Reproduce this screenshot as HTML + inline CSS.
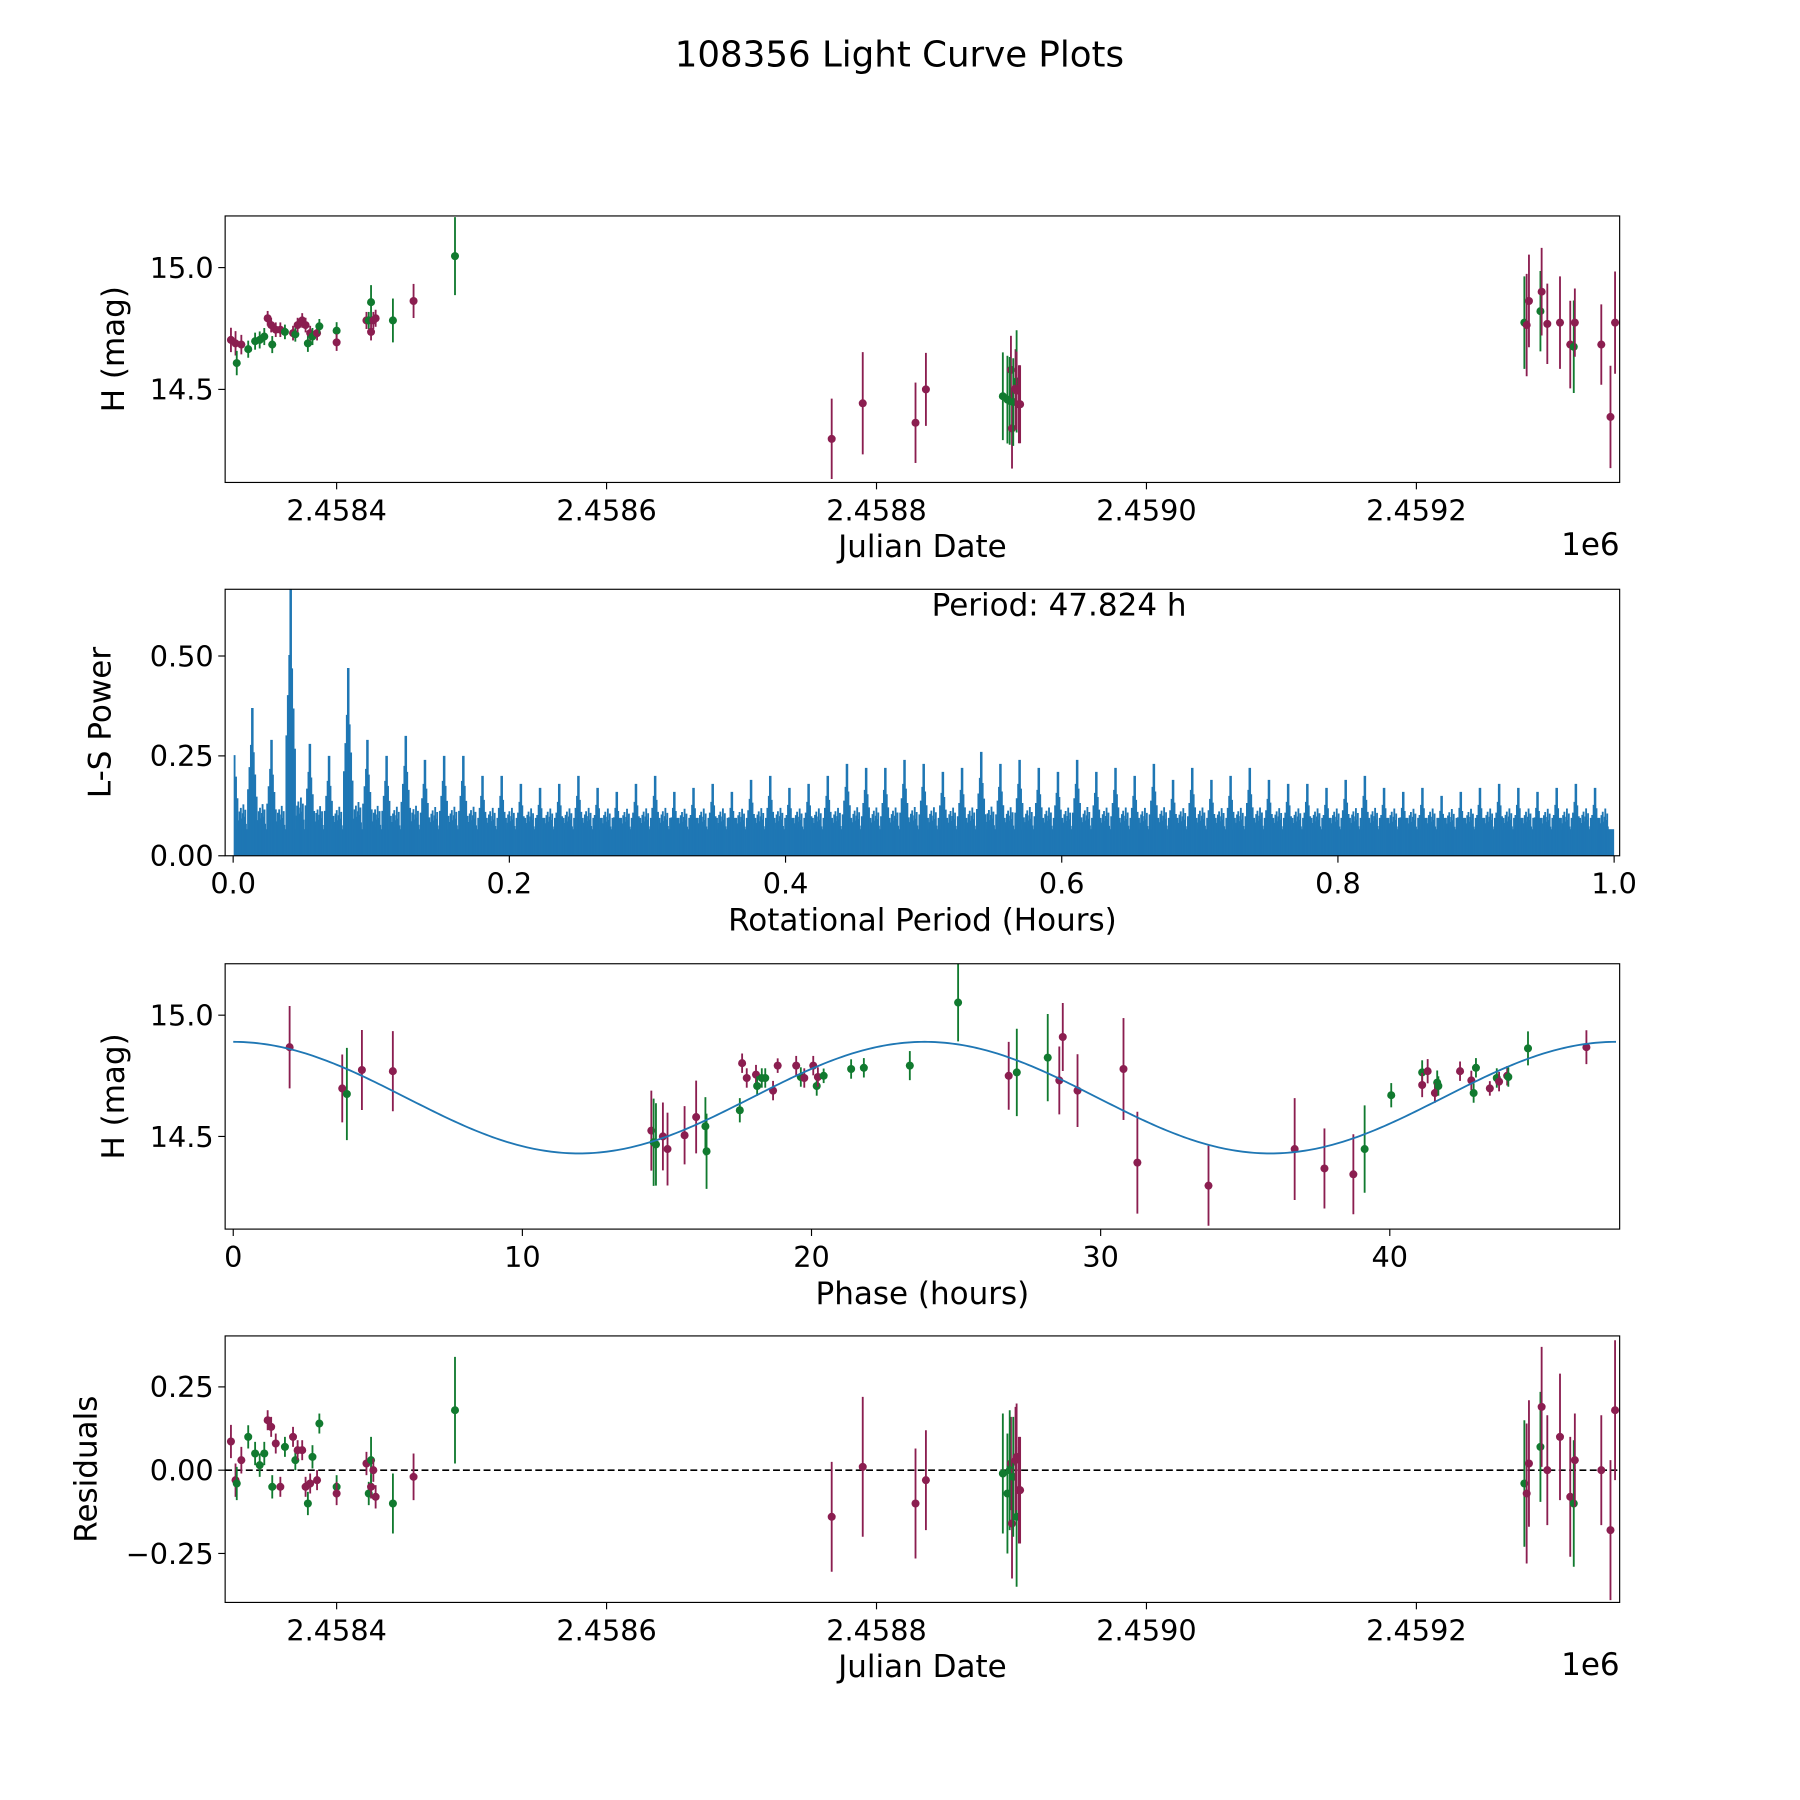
<!DOCTYPE html>
<html><head><meta charset="utf-8"><style>
html,body{margin:0;padding:0;background:#fff}
svg{display:block}
text{font-family:"DejaVu Sans","Liberation Sans",sans-serif;fill:#000}
</style></head><body>
<svg id="fig" width="1800" height="1800" viewBox="0 0 1567 1567" xmlns="http://www.w3.org/2000/svg">
<rect width="1567" height="1567" fill="#fff"/>
<text x="783" y="58" font-size="31" text-anchor="middle">108356 Light Curve Plots</text>
<g id="g1"></g><g id="g2"></g><g id="g3"></g><g id="g4"></g>
</svg>
<script>
// ---- data: panel 1 / 4 (JD offset from 2458400) ----
const jdOff=[-78.3,-74.9,-74.0,-70.6,-65.5,-60.4,-57.0,-53.6,-51.1,-48.5,-47.7,-45.1,-41.7,-38.3,-32.3,-30.6,-28.9,-25.5,-23.0,-21.3,-19.6,-17.9,-14.5,-12.8,0,0,22.1,23.8,25.5,25.5,27.2,28.9,41.7,57.0,87.7,366.8,389.8,428.9,436.6,493.6,497.0,499.6,498.7,500.4,501.3,503.0,503.8,503.8,505.5,506.4,880.0,881.7,883.4,891.9,892.8,897.0,906.4,914.0,916.6,917.4,937.0,943.8,947.2];
const magH=[14.703,14.689,14.608,14.684,14.665,14.698,14.703,14.717,14.792,14.764,14.684,14.745,14.745,14.736,14.731,14.726,14.764,14.783,14.764,14.689,14.731,14.717,14.731,14.759,14.741,14.693,14.783,14.783,14.736,14.858,14.783,14.792,14.783,14.863,15.047,14.297,14.443,14.363,14.5,14.472,14.458,14.580,14.453,14.340,14.448,14.505,14.533,14.495,14.439,14.439,14.774,14.764,14.863,14.821,14.901,14.769,14.774,14.684,14.675,14.774,14.684,14.387,14.774];
const errH=[0.05,0.05,0.05,0.04,0.035,0.035,0.035,0.035,0.03,0.03,0.035,0.03,0.03,0.03,0.03,0.03,0.03,0.03,0.03,0.035,0.03,0.035,0.03,0.03,0.035,0.035,0.035,0.035,0.035,0.07,0.035,0.035,0.09,0.07,0.16,0.165,0.21,0.165,0.15,0.18,0.18,0.14,0.18,0.165,0.18,0.16,0.21,0.16,0.16,0.16,0.19,0.21,0.19,0.165,0.18,0.165,0.19,0.18,0.19,0.14,0.165,0.21,0.21];
const colH=["p","p","g","p","g","g","g","g","p","p","g","p","p","g","p","g","p","p","p","g","p","g","p","g","g","p","p","g","p","g","p","p","g","p","g","p","p","p","p","g","g","p","g","p","g","p","g","p","p","p","g","p","p","g","p","p","p","p","g","p","p","p","p"];
const resid=[0.086,-0.03,-0.04,0.03,0.10,0.05,0.015,0.05,0.15,0.13,-0.05,0.08,-0.05,0.07,0.1,0.03,0.06,0.06,-0.05,-0.10,-0.04,0.04,-0.03,0.14,-0.05,-0.07,0.02,-0.07,-0.05,0.03,0.0,-0.08,-0.10,-0.02,0.18,-0.14,0.01,-0.10,-0.03,-0.01,-0.07,0.02,0.0,-0.16,-0.02,0.03,-0.14,0.04,-0.06,-0.06,-0.04,-0.07,0.02,0.07,0.19,0.0,0.10,-0.08,-0.10,0.03,0.0,-0.18,0.18];
// ---- data: panel 2 periodogram ----
const spikePeaks=[0.36,0.37,0.29,0.67,0.28,0.25,0.47,0.29,0.25,0.30,0.24,0.25,0.25,0.20,0.20,0.18,0.17,0.18,0.20,0.17,0.16,0.18,0.20,0.16,0.17,0.18,0.16,0.19,0.20,0.17,0.18,0.20,0.23,0.22,0.22,0.24,0.23,0.21,0.22,0.26,0.23,0.24,0.22,0.21,0.24,0.21,0.22,0.20,0.23,0.19,0.22,0.19,0.20,0.22,0.19,0.18,0.18,0.17,0.19,0.20,0.17,0.16,0.17,0.15,0.16,0.17,0.18,0.17,0.16,0.17,0.18,0.17];
const spikeSpacing=0.01389;
const baseLevel=0.095;
const fillMultipliers=[1.0,1.25,0.9,1.35,1.05,0.85,1.2,1.45,0.95,1.1,1.3,0.9];
const periodLabel="Period: 47.824 h";
// ---- data: panel 3 phased ----
const phase=[1.95,3.77,3.93,4.45,5.52,14.46,14.54,14.62,14.86,15.02,15.61,16.01,16.33,16.37,17.52,17.60,17.76,18.08,18.12,18.28,18.40,18.67,18.83,19.47,19.63,19.75,20.06,20.18,20.22,20.42,21.37,21.81,23.40,25.07,26.82,27.10,28.17,28.57,28.69,29.20,30.79,31.27,33.73,36.71,37.74,38.74,39.13,40.05,41.12,41.12,41.31,41.64,41.56,41.68,42.43,42.82,42.90,42.98,43.46,43.70,43.78,44.06,44.10,44.78,46.80];
const magP=[14.868,14.698,14.675,14.774,14.769,14.524,14.476,14.467,14.5,14.448,14.505,14.580,14.542,14.439,14.608,14.802,14.741,14.755,14.708,14.741,14.741,14.689,14.792,14.792,14.745,14.741,14.792,14.708,14.745,14.750,14.778,14.783,14.792,15.052,14.750,14.764,14.825,14.731,14.910,14.689,14.778,14.392,14.297,14.448,14.368,14.344,14.448,14.670,14.764,14.712,14.769,14.722,14.679,14.708,14.769,14.731,14.679,14.783,14.698,14.741,14.726,14.750,14.745,14.863,14.868];
const errP=[0.17,0.14,0.19,0.165,0.165,0.165,0.18,0.17,0.14,0.15,0.12,0.15,0.12,0.155,0.05,0.04,0.04,0.04,0.04,0.04,0.04,0.04,0.03,0.04,0.04,0.04,0.04,0.04,0.04,0.03,0.04,0.04,0.06,0.16,0.14,0.18,0.18,0.14,0.14,0.15,0.21,0.21,0.165,0.21,0.165,0.165,0.18,0.05,0.05,0.05,0.05,0.05,0.04,0.04,0.04,0.04,0.04,0.04,0.03,0.04,0.04,0.04,0.04,0.07,0.07];
const colP=["p","p","g","p","p","p","g","g","p","p","p","p","g","g","g","p","p","p","g","g","g","p","p","p","g","p","p","g","p","g","g","g","g","g","p","g","g","p","p","p","p","p","p","p","p","p","g","g","g","p","p","g","p","g","p","p","g","g","p","g","p","p","g","g","p"];
const modelMean=14.66, modelAmp=0.23, modelPeriod=23.912;

const NS="http://www.w3.org/2000/svg";
const COL={p:"#8b1e50",g:"#117a2f"};
const TICK=25, LAB=27;
function mk(parent,tag,attrs){const e=document.createElementNS(NS,tag);for(const k in attrs)e.setAttribute(k,attrs[k]);parent.appendChild(e);return e;}
function txt(parent,x,y,s,size,anchor,extra){const t=mk(parent,"text",Object.assign({x:x,y:y,"font-size":size,"text-anchor":anchor},extra||{}));t.textContent=s;return t;}

function makeAxes(g,L,T,R,B,xmin,xmax,ymin,ymax){
  const sx=v=>L+(v-xmin)/(xmax-xmin)*(R-L);
  const sy=v=>B-(v-ymin)/(ymax-ymin)*(B-T);
  return {sx,sy,L,T,R,B};
}
function frame(g,a,xt,xl,yt,yl,xlabel,ylabel,name,yoff){
  const f=mk(g,"rect",{x:a.L,y:a.T,width:a.R-a.L,height:a.B-a.T,fill:"none",stroke:"#000","stroke-width":1});
  
  
  xt.forEach((v,i)=>{const x=a.sx(v);mk(g,"line",{x1:x,y1:a.B,x2:x,y2:a.B+6,stroke:"#000"});
    const t=txt(g,x,a.B+33,xl[i],TICK,"middle");});
  yt.forEach((v,i)=>{const y=a.sy(v);mk(g,"line",{x1:a.L-6,y1:y,x2:a.L,y2:y,stroke:"#000"});
    const t=txt(g,a.L-10,y+9,yl[i],TICK,"end");});
  const xlT=txt(g,(a.L+a.R)/2,a.B+65,xlabel,LAB,"middle");
  
  
  const ylT=txt(g,0,0,ylabel,LAB,"middle",{transform:`translate(${a.L-yoff},${(a.T+a.B)/2}) rotate(-90)`});
  
  
}
function points(g,a,xs,ys,es,cs,name){
  const clip=name+"clip";
  const cp=mk(g,"clipPath",{id:clip});mk(cp,"rect",{x:a.L,y:a.T,width:a.R-a.L,height:a.B-a.T});
  const pg=mk(g,"g",{"clip-path":`url(#${clip})`});
  xs.forEach((v,i)=>{
    const x=a.sx(v),y=a.sy(ys[i]),c=COL[cs[i]];
    const ln=mk(pg,"line",{x1:x,y1:a.sy(ys[i]-es[i]),x2:x,y2:a.sy(ys[i]+es[i]),stroke:c,"stroke-width":1.6});
    
    
    const ci=mk(pg,"circle",{cx:x,cy:y,r:3.5,fill:c});
    
    
  });
  return pg;
}
const jdTicks=[0,200,400,600,800], jdLabels=["2.4584","2.4586","2.4588","2.4590","2.4592"];
// Panel 1
{const g=document.getElementById("g1");
 const a=makeAxes(g,196,188,1410,420,-82.6,950.6,14.118,15.212);
 points(g,a,jdOff,magH,errH,colH,"p1");
 frame(g,a,jdTicks,jdLabels,[14.5,15.0],["14.5","15.0"],"Julian Date","H (mag)","raw",88);
 const e=txt(g,1410,483,"1e6",LAB,"end");}
// Panel 2
{const g=document.getElementById("g2");
 const a=makeAxes(g,196,513,1410,745,-0.0058,1.004,0,0.667);
 const cp=mk(g,"clipPath",{id:"c2"});mk(cp,"rect",{x:a.L,y:a.T,width:a.R-a.L,height:a.B-a.T});
 const pg=mk(g,"g",{"clip-path":"url(#c2)"});
 const base=mk(pg,"rect",{x:a.sx(0.001),y:a.sy(baseLevel*0.7),width:a.sx(1.0)-a.sx(0.001),height:a.sy(0)-a.sy(baseLevel*0.7),fill:"#1f77b4"});
 
 const offs=[-0.45,-0.3,-0.15,0,0.15,0.3,0.45], frac=[0.45,0.6,0.75,1,0.7,0.55,0.4];
 spikePeaks.forEach((p,i)=>{
   const c=i*spikeSpacing;
   offs.forEach((o,j)=>{const v=c+o*spikeSpacing*0.5;if(v<0.001||v>1.0)return;
     const h=Math.max(baseLevel,p*frac[j]);
     const l=mk(pg,"line",{x1:a.sx(v),y1:a.sy(0),x2:a.sx(v),y2:a.sy(h),stroke:"#1f77b4","stroke-width":j==3?2.2:1.6});
     });
   fillMultipliers.forEach((m,k)=>{const v=c+spikeSpacing*(0.3+0.4*k/fillMultipliers.length);if(v>1.0)return;
     const h=baseLevel*m*(0.85+0.4*(p-0.15));
     const l=mk(pg,"line",{x1:a.sx(v),y1:a.sy(0),x2:a.sx(v),y2:a.sy(h),stroke:"#1f77b4","stroke-width":1.6});
     });
 });
 frame(g,a,[0,0.2,0.4,0.6,0.8,1.0],["0.0","0.2","0.4","0.6","0.8","1.0"],[0,0.25,0.5],["0.00","0.25","0.50"],"Rotational Period (Hours)","L-S Power","periodogram",100);
 const t=txt(g,922,536,periodLabel,LAB,"middle");}
// Panel 3
{const g=document.getElementById("g3");
 const a=makeAxes(g,196,839,1410,1070,-0.28,47.95,14.118,15.212);
 const pg=points(g,a,phase,magP,errP,colP,"p3");
 let d="";for(let i=0;i<=400;i++){const t=47.824*i/400;const m=modelMean+modelAmp*Math.cos(2*Math.PI*t/modelPeriod);d+=(i?"L":"M")+a.sx(t).toFixed(2)+" "+a.sy(m).toFixed(2);}
 const p=mk(pg,"path",{d:d,fill:"none",stroke:"#1f77b4","stroke-width":1.6});
 
 frame(g,a,[0,10,20,30,40],["0","10","20","30","40"],[14.5,15.0],["14.5","15.0"],"Phase (hours)","H (mag)","phased",88);}
// Panel 4
{const g=document.getElementById("g4");
 const a=makeAxes(g,196,1163,1410,1395,-82.6,950.6,-0.397,0.403);
 const z=mk(g,"line",{x1:a.L,y1:a.sy(0),x2:a.R,y2:a.sy(0),stroke:"#000","stroke-dasharray":"6,3","stroke-width":1.5});
 
 points(g,a,jdOff,resid,errH,colH,"p4");
 frame(g,a,jdTicks,jdLabels,[-0.25,0,0.25],["\u22120.25","0.00","0.25"],"Julian Date","Residuals","resid",112);
 const e=txt(g,1410,1458,"1e6",LAB,"end");}
</script>
</body></html>
